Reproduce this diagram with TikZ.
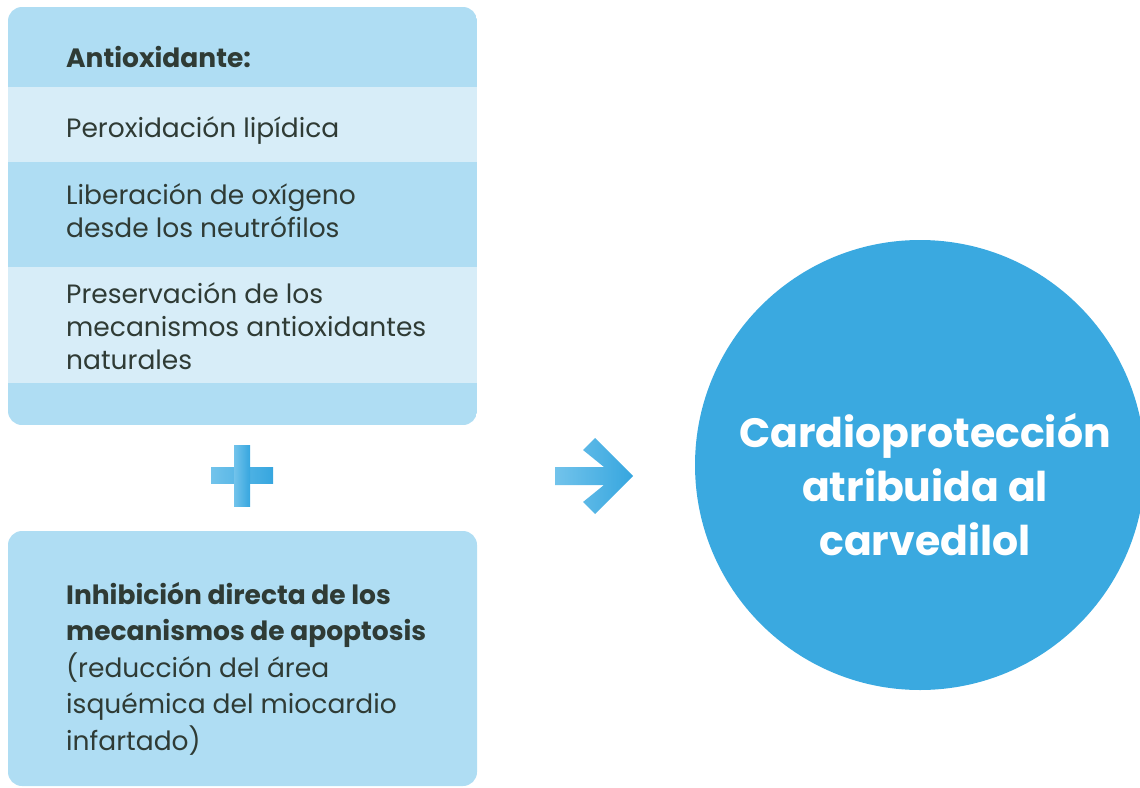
\documentclass[tikz,border=0pt]{standalone}
\usepackage{fontspec}
\setmainfont{Poppins}
\definecolor{bandA}{HTML}{AFDDF3}
\definecolor{bandB}{HTML}{D7EDF8}
\definecolor{circ}{HTML}{3AA9E0}
\definecolor{txt}{HTML}{2F3B35}
\definecolor{gradL}{HTML}{72C3EB}
\definecolor{gradR}{HTML}{36A6DF}
\tikzset{
  band/.style={fill=#1, draw=none},
  lbl/.style={anchor=base west, inner sep=0pt, text=txt, align=left, font=\fontsize{26.5}{33}\selectfont},
  ctext/.style={text=white, align=center, inner sep=0pt, font=\fontsize{41}{54}\selectfont\bfseries},
  grad/.style={left color=gradL, right color=gradR, draw=none}
}
\begin{document}
\begin{tikzpicture}[x=1pt,y=-1pt]
\useasboundingbox (0,0) rectangle (1140,787);
% top box
\begin{scope}
\clip[rounded corners=14pt] (8,7) rectangle (477,425);
\fill[band=bandA] (8,7) rectangle (477,87);
\fill[band=bandB] (8,87) rectangle (477,162);
\fill[band=bandA] (8,162) rectangle (477,267);
\fill[band=bandB] (8,267) rectangle (477,383);
\fill[band=bandA] (8,383) rectangle (477,425);
\end{scope}
\node[lbl, font=\fontsize{26.5}{33}\selectfont\bfseries] (t1) at (66,67) {Antioxidante:};
\node[lbl] (t2) at (66,137) {Peroxidación lipídica};
\node[lbl] (t3) at (66,237) {Liberación de oxígeno\\desde los neutrófilos};
\node[lbl] (t4) at (66,369) {Preservación de los\\mecanismos antioxidantes\\naturales};
% bottom box
\fill[band=bandA, rounded corners=14pt] (8,531) rectangle (477,786);
\node[lbl, font=\fontsize{26.5}{36.5}\selectfont] (t5) at (66,750) {\textbf{Inhibición directa de los}\\\textbf{mecanismos de apoptosis}\\(reducción del área\\isquémica del miocardio\\infartado)};
% plus
\shade[grad] (211,467) rectangle (273,483);
\shade[grad] (234,445) rectangle (250,506);
% arrow
\shade[grad] (555,467) -- (604,467) -- (583,450) -- (595,438) -- (633,476) -- (595,514) -- (583,502) -- (604,485) -- (555,485) -- cycle;
% circle
\node[circle, fill=circ, minimum size=450pt, inner sep=0pt] (c) at (920,465) {};
\node[ctext] (ct) at (925,485) {Cardioprotección\\atribuida al\\carvedilol};
\end{tikzpicture}
\end{document}
